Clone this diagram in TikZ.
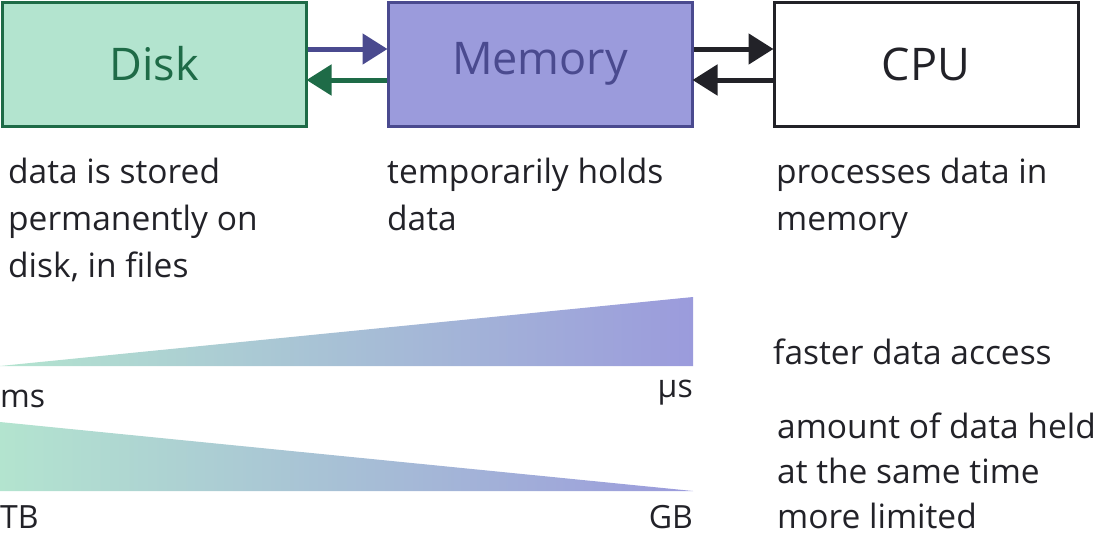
\documentclass[tikz,border=0pt]{standalone}
\usepackage{fontspec}
\setmainfont{Open Sans}
\usetikzlibrary{arrows.meta}
\definecolor{diskfill}{HTML}{B3E4CF}
\definecolor{diskline}{HTML}{1E6B47}
\definecolor{memfill}{HTML}{9B9BDC}
\definecolor{memline}{HTML}{4A4A8F}
\definecolor{ink}{HTML}{222228}
\tikzset{
  box/.style={draw, line width=3pt, minimum width=304pt, minimum height=124pt, inner sep=0pt, font=\fontsize{45}{50}\selectfont},
  link/.style={line width=5pt, -{Triangle[length=25pt,width=30pt]}, shorten >=-1pt},
  desc/.style={anchor=base west, align=left, inner sep=0pt, text=ink, font=\fontsize{33.5}{47}\selectfont},
  lab/.style={inner sep=0pt, text=ink, font=\fontsize{32}{36}\selectfont}
}
\begin{document}
\begin{tikzpicture}[x=1pt,y=-1pt]
\useasboundingbox (0,0) rectangle (1098,533);
\node[box, fill=diskfill, draw=diskline, text=diskline] (disk) at (154,64) {Disk};
\node[box, fill=memfill, draw=memline, text=memline] (mem) at (540,64) {Memory};
\node[box, fill=white, draw=ink, text=ink] (cpu) at (926,64) {CPU};
\coordinate (d1) at ([yshift=15pt]disk.east);
\coordinate (d2) at ([yshift=-16pt]disk.east);
\coordinate (m1) at ([yshift=15pt]mem.west);
\coordinate (m2) at ([yshift=-16pt]mem.west);
\coordinate (m3) at ([yshift=15pt]mem.east);
\coordinate (m4) at ([yshift=-16pt]mem.east);
\coordinate (c1) at ([yshift=15pt]cpu.west);
\coordinate (c2) at ([yshift=-16pt]cpu.west);
\draw[link, memline] (d1) -- (m1);
\draw[link, diskline] (m2) -- (d2);
\draw[link, ink] (m3) -- (c1);
\draw[link, ink] (c2) -- (m4);
\node[desc] (t1) at (8,277) {data is stored\\permanently on\\disk, in files};
\node[desc] (t2) at (387,230) {temporarily holds\\data};
\node[desc] (t3) at (776,230) {processes data in\\memory};
\coordinate (a1) at (0,366);
\coordinate (a2) at (693,297);
\coordinate (a3) at (693,366);
\shade[left color=diskfill, right color=memfill] (a1) -- (a2) -- (a3) -- cycle;
\coordinate (b1) at (0,422);
\coordinate (b2) at (0,491);
\coordinate (b3) at (693,491);
\shade[left color=diskfill, right color=memfill] (b1) -- (b3) -- (b2) -- cycle;
\node[lab, anchor=base west] (ms) at (0,407) {ms};
\node[lab, anchor=base east] (us) at (693,397) {μs};
\node[lab, anchor=base west] (tb) at (0,528) {TB};
\node[lab, anchor=base east] (gb) at (693,528) {GB};
\node[desc] (f) at (773,364) {faster data access};
\node[desc, font=\fontsize{33.5}{45}\selectfont] (amt) at (777,528) {amount of data held\\at the same time\\more limited};
\end{tikzpicture}
\end{document}
